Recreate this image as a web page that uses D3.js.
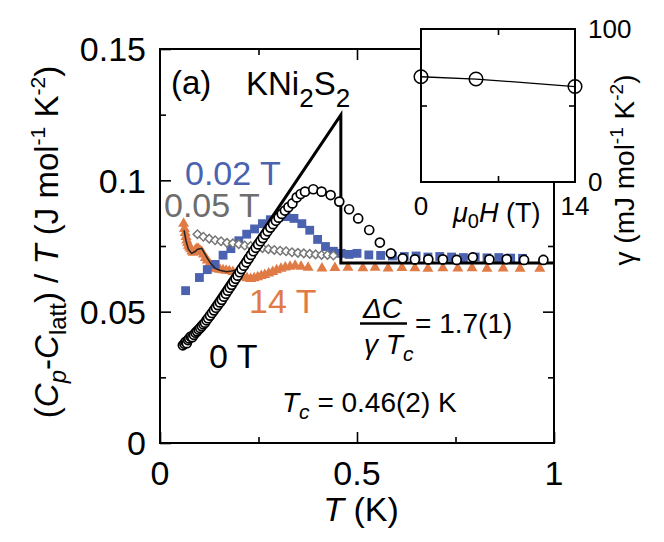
<!DOCTYPE html>
<html><head><meta charset="utf-8">
<script src="https://cdn.jsdelivr.net/npm/d3@7"></script>
<style>
body{margin:0;background:#fff}
svg{display:block}
text{font-family:"Liberation Sans",Arial,Helvetica,sans-serif;fill:#000}
</style>
</head><body>
<svg id="chart" width="664" height="542"></svg>
<script>
// ---------- DATA ----------
const xTicksMain = [0, 0.5, 1];
const xTickLabels = ["0", "0.5", "1"];
const yTicksMain = [0, 0.05, 0.1, 0.15];
const yTickLabels = ["0", "0.05", "0.1", "0.15"];

// 0 T (open circles)
const t0T = [0.058,0.062,0.065,0.068,0.071,0.074,0.078,0.082,0.086,0.090,0.094,0.098,0.102,0.106,0.110,0.114,0.118,0.122,0.127,0.132,0.137,0.142,0.147,0.152,0.157,0.162,0.167,0.172,0.177,0.182,0.187,0.192,0.197,0.202,0.207,0.213,0.219,0.225,0.231,0.237,0.243,0.249,0.255,0.261,0.267,0.273,0.280,0.287,0.294,0.301,0.309,0.317,0.326,0.336,0.347,0.357,0.368,0.389,0.410,0.433,0.455,0.480,0.503,0.531,0.558,0.586,0.616,0.647,0.681,0.718,0.753,0.794,0.836,0.880,0.924,0.973];
const c0T = [0.0372,0.0378,0.0385,0.0380,0.0392,0.0398,0.0405,0.0403,0.0412,0.0420,0.0425,0.0432,0.0438,0.0445,0.0452,0.0458,0.0467,0.0475,0.0485,0.0495,0.0505,0.0515,0.0525,0.0535,0.0545,0.0557,0.0568,0.0580,0.0591,0.0602,0.0614,0.0625,0.0637,0.0650,0.0662,0.0675,0.0688,0.0702,0.0716,0.0730,0.0743,0.0756,0.0768,0.0780,0.0793,0.0806,0.0820,0.0833,0.0846,0.0858,0.0872,0.0885,0.0898,0.0912,0.0935,0.0948,0.0957,0.0966,0.0957,0.0944,0.0919,0.0890,0.0855,0.0811,0.0763,0.0722,0.0703,0.0699,0.0699,0.0699,0.0697,0.0707,0.0699,0.0700,0.0697,0.0697];

// 0.02 T (filled squares)
const t002T = [0.065,0.100,0.120,0.140,0.160,0.180,0.200,0.220,0.240,0.260,0.280,0.300,0.320,0.340,0.360,0.380,0.400,0.420,0.440,0.460,0.480,0.500,0.530,0.560,0.590,0.620,0.650,0.680,0.710,0.740,0.770,0.800,0.830,0.860,0.890,0.920];
const c002T = [0.0580,0.0630,0.0660,0.0680,0.0715,0.0740,0.0770,0.0795,0.0815,0.0835,0.0850,0.0858,0.0862,0.0855,0.0835,0.0810,0.0775,0.0748,0.0730,0.0722,0.0718,0.0722,0.0716,0.0714,0.0712,0.0710,0.0712,0.0708,0.0710,0.0708,0.0706,0.0708,0.0705,0.0706,0.0704,0.0703];

// 0.05 T (open diamonds)
const t005T = [0.095,0.110,0.125,0.140,0.155,0.170,0.185,0.200,0.215,0.230,0.245,0.260,0.275,0.290,0.305,0.320,0.335,0.350,0.365,0.380,0.395,0.410,0.425,0.440];
const c005T = [0.0795,0.0785,0.0778,0.0772,0.0768,0.0762,0.0760,0.0757,0.0752,0.0750,0.0746,0.0742,0.0738,0.0735,0.0732,0.0730,0.0726,0.0724,0.0722,0.0720,0.0718,0.0716,0.0716,0.0714];

// 14 T (filled triangles)
const t14T = [0.060,0.062,0.064,0.066,0.068,0.070,0.072,0.075,0.078,0.081,0.084,0.087,0.090,0.094,0.098,0.102,0.106,0.110,0.115,0.120,0.126,0.132,0.138,0.145,0.152,0.160,0.168,0.176,0.185,0.194,0.203,0.212,0.221,0.230,0.239,0.248,0.257,0.266,0.276,0.286,0.296,0.307,0.318,0.330,0.343,0.358,0.376,0.411,0.444,0.477,0.515,0.546,0.579,0.614,0.647,0.680,0.718,0.756,0.792,0.830,0.871,0.914,0.964];
const c14T = [0.0835,0.0815,0.0800,0.0785,0.0772,0.0762,0.0752,0.0745,0.0738,0.0730,0.0725,0.0728,0.0735,0.0740,0.0738,0.0732,0.0728,0.0718,0.0705,0.0695,0.0683,0.0673,0.0665,0.0662,0.0660,0.0658,0.0656,0.0655,0.0652,0.0645,0.0638,0.0632,0.0628,0.0625,0.0628,0.0632,0.0636,0.0640,0.0646,0.0652,0.0658,0.0664,0.0669,0.0672,0.0675,0.0672,0.0668,0.0665,0.0667,0.0668,0.0666,0.0668,0.0665,0.0667,0.0666,0.0664,0.0666,0.0665,0.0666,0.0664,0.0665,0.0664,0.0664];

// thin line through 14 T low-T data
const tLine14 = [0.061,0.066,0.072,0.080,0.088,0.096,0.106,0.112,0.118,0.128,0.140,0.152,0.169,0.182,0.195];
const cLine14 = [0.0810,0.0770,0.0738,0.0722,0.0728,0.0738,0.0741,0.0725,0.0709,0.0685,0.0665,0.0658,0.0652,0.0655,0.0659];

// entropy-balance construction (thick line)
const tConstr = [0.063,0.459,0.459,1.0];
const cConstr = [0.0366,0.1249,0.0685,0.0685];

// inset: gamma vs field
const insetH = [0, 5, 14];
const insetGamma = [68.8, 67.3, 62.4];
const insetXTicks = [0, 14];
const insetYTicks = [0, 100];

// ---------- DRAW ----------
const svg = d3.select("#chart");
const L = 160, R = 554, T = 49, B = 443;
const x = d3.scaleLinear().domain([0,1]).range([L,R]);
const y = d3.scaleLinear().domain([0,0.15]).range([B,T]);

const blue = "#4a62b0", orange = "#e07b46", grey = "#777777";

// frame + axes (ticks inward)
const major = 11, minor = 6;
const isMinorY = d => Math.round(d*1000)%50!==0;
svg.append("g").attr("transform",`translate(0,${B})`)
  .call(d3.axisBottom(x).tickValues([0,0.25,0.5,0.75,1]).tickSize(-major).tickFormat(""))
  .call(g=>{g.select(".domain").remove(); g.selectAll(".tick line").attr("stroke","#000").attr("stroke-width",1.6)
    .attr("y2",d=>(d===0.25||d===0.75)?-minor:-major);});
svg.append("g").attr("transform",`translate(0,${T})`)
  .call(d3.axisTop(x).tickValues([0.25,0.5,0.75]).tickSize(-major).tickFormat(""))
  .call(g=>{g.select(".domain").remove(); g.selectAll(".tick line").attr("stroke","#000").attr("stroke-width",1.6)
    .attr("y2",d=>(d===0.25||d===0.75)?minor:major);});
svg.append("g").attr("transform",`translate(${L},0)`)
  .call(d3.axisLeft(y).tickValues([0,0.025,0.05,0.075,0.1,0.125,0.15]).tickSize(-major).tickFormat(""))
  .call(g=>{g.select(".domain").remove(); g.selectAll(".tick line").attr("stroke","#000").attr("stroke-width",1.6)
    .attr("x2",d=>isMinorY(d)?minor:major);});
svg.append("g").attr("transform",`translate(${R},0)`)
  .call(d3.axisRight(y).tickValues([0.025,0.05,0.075,0.1]).tickSize(-major).tickFormat(""))
  .call(g=>{g.select(".domain").remove(); g.selectAll(".tick line").attr("stroke","#000").attr("stroke-width",1.6)
    .attr("x2",d=>isMinorY(d)?-minor:-major);});
svg.append("rect").attr("x",L).attr("y",T).attr("width",R-L).attr("height",B-T)
  .attr("fill","none").attr("stroke","#000").attr("stroke-width",2);

// tick labels
svg.append("g").selectAll("text").data(xTicksMain).join("text")
  .attr("x",d=>x(d)).attr("y",485).attr("text-anchor","middle")
  .style("font-size","34px").text((d,i)=>xTickLabels[i]);
svg.append("g").selectAll("text").data(yTicksMain).join("text")
  .attr("x",146).attr("y",d=>y(d)).attr("dy","0.36em").attr("text-anchor","end")
  .style("font-size","34px").text((d,i)=>yTickLabels[i]);

// axis titles
const xl = svg.append("text").attr("x",361).attr("y",521).attr("text-anchor","middle").style("font-size","34px");
xl.append("tspan").style("font-style","italic").text("T");
xl.append("tspan").text(" (K)");

const yl = svg.append("text").attr("transform","translate(58,242) rotate(-90)").attr("text-anchor","middle").style("font-size","33px");
yl.append("tspan").text("(");
yl.append("tspan").style("font-style","italic").text("C");
yl.append("tspan").style("font-style","italic").style("font-size","24px").attr("dy",8).text("p");
yl.append("tspan").attr("dy",-8).text("-");
yl.append("tspan").style("font-style","italic").text("C");
yl.append("tspan").style("font-size","24px").attr("dy",8).text("latt");
yl.append("tspan").attr("dy",-8).text(") / ");
yl.append("tspan").style("font-style","italic").text("T");
yl.append("tspan").text(" (J mol");
yl.append("tspan").style("font-size","21px").attr("dy",-13).text("-1");
yl.append("tspan").attr("dy",13).text(" K");
yl.append("tspan").style("font-size","21px").attr("dy",-13).text("-2");
yl.append("tspan").attr("dy",13).text(")");

// data layers
const plot = svg.append("g");
const pts = (ts,cs)=>ts.map((t,i)=>[t,cs[i]]);

// 14 T triangles
plot.append("g").selectAll("path").data(pts(t14T,c14T)).join("path")
  .attr("d",d3.symbol().type(d3.symbolTriangle).size(52))
  .attr("transform",d=>`translate(${x(d[0])},${y(d[1])})`)
  .attr("fill",orange);
// 0.02 T squares
plot.append("g").selectAll("path").data(pts(t002T,c002T)).join("path")
  .attr("d",d3.symbol().type(d3.symbolSquare).size(78))
  .attr("transform",d=>`translate(${x(d[0])},${y(d[1])})`)
  .attr("fill",blue);
// 0.05 T diamonds
plot.append("g").selectAll("path").data(pts(t005T,c005T)).join("path")
  .attr("d",d3.symbol().type(d3.symbolSquare).size(36))
  .attr("transform",d=>`translate(${x(d[0])},${y(d[1])}) rotate(45)`)
  .attr("fill","#fff").attr("stroke",grey).attr("stroke-width",1.5);
// thin line
const line = d3.line().x(d=>x(d[0])).y(d=>y(d[1]));
plot.append("path").datum(pts(tLine14,cLine14)).attr("d",line)
  .attr("fill","none").attr("stroke","#222").attr("stroke-width",1.5);
// construction line
plot.append("path").datum(pts(tConstr,cConstr)).attr("d",line)
  .attr("fill","none").attr("stroke","#000").attr("stroke-width",3).attr("stroke-linejoin","miter");
// 0 T circles
plot.append("g").selectAll("circle").data(pts(t0T,c0T)).join("circle")
  .attr("cx",d=>x(d[0])).attr("cy",d=>y(d[1])).attr("r",4.5)
  .attr("fill","#fff").attr("stroke","#000").attr("stroke-width",1.7);

// annotations
svg.append("text").attr("x",171).attr("y",94).style("font-size","33px").text("(a)");
const kn = svg.append("text").attr("x",246).attr("y",95).style("font-size","33px");
kn.append("tspan").text("KNi");
kn.append("tspan").style("font-size","26px").attr("dy",12).text("2");
kn.append("tspan").attr("dy",-12).text("S");
kn.append("tspan").style("font-size","26px").attr("dy",12).text("2");

svg.append("text").attr("x",185).attr("y",185).style("font-size","34px").style("fill",blue).text("0.02 T");
svg.append("text").attr("x",164).attr("y",217).style("font-size","34px").style("fill","#6d6d6d").text("0.05 T");
svg.append("text").attr("x",249).attr("y",313).style("font-size","34px").style("fill",orange).text("14 T");
svg.append("text").attr("x",209).attr("y",368).style("font-size","34px").text("0 T");

// fraction
svg.append("text").attr("x",363).attr("y",318).style("font-size","28px").style("font-style","italic").text("ΔC");
svg.append("line").attr("x1",360).attr("x2",407).attr("y1",323.5).attr("y2",323.5).attr("stroke","#000").attr("stroke-width",2.5);
const den = svg.append("text").attr("x",364).attr("y",354).style("font-size","28px");
den.append("tspan").style("font-style","italic").text("γ T");
den.append("tspan").style("font-style","italic").style("font-size","21px").attr("dy",7).text("c");
svg.append("text").attr("x",415).attr("y",333).style("font-size","28px").text("= 1.7(1)");

const tc = svg.append("text").attr("x",282).attr("y",412).style("font-size","28px");
tc.append("tspan").style("font-style","italic").text("T");
tc.append("tspan").style("font-style","italic").style("font-size","21px").attr("dy",7).text("c");
tc.append("tspan").attr("dy",-7).text(" = 0.46(2) K");

// ---------- INSET ----------
const iL = 421, iR = 575, iT = 29, iB = 182;
const ix = d3.scaleLinear().domain([0,14]).range([iL,iR]);
const iy = d3.scaleLinear().domain([0,100]).range([iB,iT]);
const inset = svg.append("g");
inset.append("rect").attr("x",iL).attr("y",iT).attr("width",iR-iL).attr("height",iB-iT)
  .attr("fill","#fff").attr("stroke","#000").attr("stroke-width",2);
inset.append("g").attr("transform",`translate(0,${iT})`)
  .call(d3.axisTop(ix).tickValues([7]).tickSize(-6).tickFormat(""))
  .call(g=>{g.select(".domain").remove(); g.selectAll("line").attr("stroke","#000").attr("stroke-width",1.6);});
inset.append("g").attr("transform",`translate(0,${iB})`)
  .call(d3.axisBottom(ix).tickValues([7]).tickSize(-6).tickFormat(""))
  .call(g=>{g.select(".domain").remove(); g.selectAll("line").attr("stroke","#000").attr("stroke-width",1.6);});
inset.append("g").attr("transform",`translate(${iL},0)`)
  .call(d3.axisLeft(iy).tickValues([50]).tickSize(-6).tickFormat(""))
  .call(g=>{g.select(".domain").remove(); g.selectAll("line").attr("stroke","#000").attr("stroke-width",1.6);});
inset.append("g").attr("transform",`translate(${iR},0)`)
  .call(d3.axisRight(iy).tickValues([50]).tickSize(-6).tickFormat(""))
  .call(g=>{g.select(".domain").remove(); g.selectAll("line").attr("stroke","#000").attr("stroke-width",1.6);});

inset.append("path").datum(insetH.map((h,i)=>[h,insetGamma[i]]))
  .attr("d",d3.line().x(d=>ix(d[0])).y(d=>iy(d[1])))
  .attr("fill","none").attr("stroke","#000").attr("stroke-width",1.3);
inset.append("g").selectAll("circle").data(insetH.map((h,i)=>[h,insetGamma[i]])).join("circle")
  .attr("cx",d=>ix(d[0])).attr("cy",d=>iy(d[1])).attr("r",6.8)
  .attr("fill","none").attr("stroke","#000").attr("stroke-width",1.5);

inset.append("g").selectAll("text").data(insetXTicks).join("text")
  .attr("x",d=>ix(d)).attr("y",215).attr("text-anchor","middle")
  .style("font-size","26px").text(d=>d);
inset.append("g").selectAll("text").data(insetYTicks).join("text")
  .attr("x",588).attr("y",d=>iy(d)).attr("dy","0.36em")
  .style("font-size","26px").text(d=>d);

const ixl = inset.append("text").attr("x",453).attr("y",222).style("font-size","27px");
ixl.append("tspan").style("font-style","italic").text("μ");
ixl.append("tspan").style("font-size","20px").attr("dy",6).text("0");
ixl.append("tspan").style("font-style","italic").attr("dy",-6).text("H");
ixl.append("tspan").text(" (T)");

const iyl = inset.append("text").attr("transform","translate(634,170) rotate(-90)").attr("text-anchor","middle").style("font-size","28px");
iyl.append("tspan").text("γ (mJ mol");
iyl.append("tspan").style("font-size","19px").attr("dy",-11).text("-1");
iyl.append("tspan").attr("dy",11).text(" K");
iyl.append("tspan").style("font-size","19px").attr("dy",-11).text("-2");
iyl.append("tspan").attr("dy",11).text(")");
</script>
</body></html>
